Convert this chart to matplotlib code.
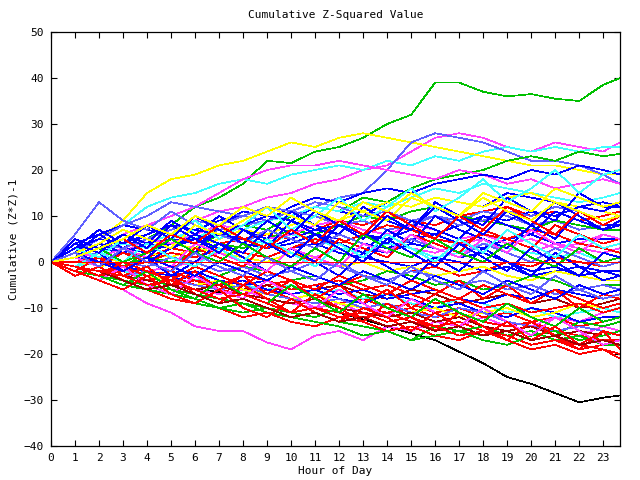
import matplotlib
matplotlib.use("Agg")
import matplotlib.pyplot as plt

# sample times (hour of day)
hours = [0, 1, 2, 3, 4, 5, 6, 7, 8, 9, 10, 11, 12, 13, 14, 15, 16, 17, 18, 19, 20, 21, 22, 23, 23.7]

# colours used by the series (gnuplot-like palette)
RED = '#ff0000'
GREEN = '#00c000'
BLUE = '#0000ff'
MAGENTA = '#ff40ff'
CYAN = '#40ffff'
YELLOW = '#ffff00'
SLATE = '#6060ff'
DKRED = '#a00000'
BLACK = '#000000'

# cumulative (z*z)-1 per channel at each hour
s01 = [0, -1, 1, 3, 5, 8, 12, 14, 17, 22, 21.5, 24, 25, 27, 30, 32, 39, 39, 37, 36, 36.5, 35.5, 35, 38.5, 40]
s02 = [0, -1, -2, -3, -4, -5, -6, -6.5, -7, -8, -9, -10, -11, -12.5, -14, -15.5, -17, -19.5, -22, -25, -26.5, -28.5, -30.5, -29.5, -29]
s03 = [0, -2, -4, -6, -9, -11, -14, -15, -15, -17.5, -19, -16, -15, -17, -14, -15, -13, -14, -12, -14, -13, -15, -16, -14, -15]
s04 = [0, 1, 3, 2, 5, 7, 9, 11, 12, 14, 15, 17, 18, 20, 21, 24, 27, 28, 27, 25, 24, 26, 25, 24, 26]
s05 = [0, 2, 5, 8, 12, 14, 15, 17, 18, 17, 19, 20, 21, 20, 22, 21, 23, 22, 24, 25, 24, 25, 24, 25, 25]
s06 = [0, 2, 5, 9, 15, 18, 19, 21, 22, 24, 26, 25, 27, 28, 27, 26, 25, 24, 23, 22, 21, 21, 20, 19, 19]
s07 = [0, 3, 1, 0, 2, 4, 5, 7, 8, 9, 10, 12, 14, 15, 20, 26, 28, 27, 26, 24, 22, 22, 21, 19, 17]
s08 = [0, 1, 0, -1, 2, 4, 3, 6, 8, 7, 10, 12, 11, 14, 13, 16, 18, 19, 20, 22, 23, 22, 24, 23, 23.5]
s09 = [0, 1, 3, 6, 8, 10, 12, 15, 18, 20, 21, 21, 22, 21, 20, 19, 18, 20, 19, 17, 18, 16, 17, 18, 17]
s10 = [0, 2, 4, 3, 6, 8, 7, 9, 10, 9, 12, 14, 13, 15, 16, 15, 17, 18, 19, 18, 20, 19, 21, 20, 19]
s11 = [0, 4, 6, 8, 7, 6, 9, 8, 11, 10, 9, 12, 11, 10, 13, 12, 14, 13, 12, 15, 14, 13, 12, 13, 12]
s12 = [0, 1, 3, 2, 4, 6, 5, 8, 7, 9, 10, 12, 11, 13, 12, 14, 16, 15, 17, 16, 15, 14, 13, 14, 15]
s13 = [0, -1, 0, 2, 1, 3, 2, 4, 5, 6, 5, 7, 9, 8, 10, 9, 8, 10, 11, 12, 10, 11, 9, 10, 11]
s14 = [0, -1, 1, 0, 2, 4, 3, 5, 7, 6, 8, 10, 9, 11, 13, 12, 14, 13, 12, 14, 15, 13, 12, 11, 10]
s15 = [0, 2, 5, 8, 10, 13, 12, 11, 10, 9, 11, 10, 8, 9, 7, 8, 10, 9, 11, 10, 8, 9, 7, 8, 8]
s16 = [0, -1, -2, -1, 1, 0, 2, 4, 3, 5, 7, 6, 8, 10, 9, 11, 12, 10, 9, 8, 7, 9, 8, 7, 7]
s17 = [0, 1, 0, 2, 4, 3, 5, 6, 4, 3, 5, 7, 6, 4, 3, 5, 6, 4, 3, 5, 6, 4, 5, 5, 5]
s18 = [0, -1, -2, -3, -2, -1, 0, 2, 1, 0, -1, 1, 3, 2, 4, 3, 2, 4, 5, 3, 2, 4, 3, 2, 3]
s19 = [0, 1, 2, 4, 3, 5, 7, 6, 5, 4, 6, 5, 3, 2, 4, 3, 1, 2, 4, 3, 2, 1, 2, 0, 1]
s20 = [0, -1, -2, -3, -4, -5, -4, -6, -7, -5, -4, -6, -5, -3, -4, -2, -1, -3, -2, 0, -1, 1, 0, -1, 0]
s21 = [0, 2, 1, 3, 2, 4, 5, 3, 2, 1, 3, 4, 2, 1, 0, -1, 1, 0, -2, -1, -3, -2, -1, -2, -2]
s22 = [0, 1, -1, 0, 2, 1, 3, 2, 1, 0, 2, 1, -1, 0, -2, -1, -3, -2, -1, -3, -4, -2, -3, -4, -4]
s23 = [0, -1, -2, -1, -3, -2, -4, -3, -1, -2, -4, -3, -5, -4, -2, -3, -5, -4, -6, -5, -3, -4, -6, -5, -5]
s24 = [0, 1, 2, 0, -1, 1, 0, -2, -1, -3, -2, 0, -1, -3, -4, -2, -3, -5, -4, -6, -5, -7, -6, -5, -6]
s25 = [0, -1, -2, -3, -2, -4, -5, -4, -6, -5, -7, -6, -5, -7, -8, -6, -7, -9, -8, -7, -9, -8, -10, -9, -8]
s26 = [0, 1, 3, 2, 4, 5, 4, 6, 5, 3, 4, 6, 5, 3, 2, 4, 3, 1, 2, 0, -2, -1, -3, -2, -3]
s27 = [0, 2, 1, 3, 5, 4, 6, 8, 7, 5, 6, 8, 9, 7, 6, 8, 7, 5, 6, 4, 5, 3, 4, 6, 5]
s28 = [0, -1, -2, -3, -4, -3, -5, -6, -5, -7, -8, -7, -9, -8, -10, -9, -11, -10, -12, -11, -13, -12, -14, -13, -12]
s29 = [0, -1, -2, -2, -3, -4, -5, -6, -7, -8, -9, -10, -11, -12, -11, -13, -14, -13, -15, -16, -15, -17, -18, -19, -20]
s30 = [0, -2, -3, -4, -6, -7, -8, -10, -9, -11, -12, -11, -13, -14, -15, -17, -14, -15, -16, -15, -14, -16, -13, -14, -13]
s31 = [0, -1, -3, -2, -4, -5, -4, -6, -7, -6, -8, -9, -8, -10, -11, -10, -12, -11, -13, -14, -13, -15, -16, -17, -17]
s32 = [0, -1, -2, -4, -5, -4, -6, -7, -6, -8, -9, -10, -9, -11, -12, -11, -13, -12, -11, -13, -14, -12, -13, -11, -10]
s33 = [0, -1, 0, -2, -3, -2, -4, -3, -5, -6, -5, -7, -6, -8, -7, -9, -10, -8, -9, -11, -10, -12, -11, -10, -11]
s34 = [0, -1, -2, -1, -3, -4, -3, -5, -4, -6, -7, -6, -8, -9, -7, -8, -10, -9, -11, -12, -10, -11, -13, -12, -12]
s35 = [0, -1, -3, -4, -5, -6, -7, -8, -9, -10, -11, -12, -10, -11, -13, -12, -14, -15, -14, -16, -15, -17, -16, -18, -18]
s36 = [0, -2, -3, -5, -6, -8, -9, -10, -12, -11, -13, -14, -12, -13, -15, -14, -16, -17, -15, -16, -18, -17, -19, -18, -17]
s37 = [0, -1, -2, -1, -3, -4, -5, -4, -6, -7, -8, -7, -9, -10, -9, -11, -10, -12, -11, -10, -12, -11, -9, -10, -9]
s38 = [0, -1, -2, -3, -2, -4, -5, -6, -5, -7, -8, -9, -8, -10, -9, -11, -12, -10, -11, -13, -14, -15, -14, -15, -16]
s39 = [0, -1, -2, -3, -4, -5, -6, -5, -7, -8, -9, -8, -10, -11, -12, -11, -13, -12, -14, -15, -14, -16, -15, -16, -15]
s40 = [0, 1, 0, -1, -2, -3, -2, -4, -5, -4, -6, -5, -7, -6, -8, -7, -6, -8, -9, -7, -8, -6, -7, -8, -7]
s41 = [0, -1, -2, -1, -3, -2, -4, -5, -3, -4, -6, -5, -4, -6, -5, -7, -9, -8, -10, -9, -11, -10, -9, -11, -10]
s42 = [0, -2, -3, -5, -6, -7, -9, -10, -11, -10, -12, -13, -14, -16, -15, -17, -16, -15, -17, -18, -16, -15, -17, -16, -15]
s43 = [0, 3, 5, 4, 6, 8, 7, 6, 8, 10, 9, 7, 8, 6, 5, 7, 6, 8, 10, 9, 11, 10, 12, 11, 13]
s44 = [0, 2, 4, 3, 5, 7, 9, 8, 10, 12, 11, 13, 12, 10, 11, 9, 10, 8, 9, 11, 10, 12, 11, 9, 10]
s45 = [0, 0, 1, -1, 0, 2, 1, 3, 2, 1, 3, 5, 4, 6, 8, 7, 5, 4, 6, 5, 7, 6, 4, 3, 2]
s46 = [0, 5, 3, 6, 4, 9, 6, 10, 7, 5, 11, 8, 6, 12, 9, 7, 13, 10, 8, 14, 11, 9, 15, 12, 12]
s47 = [0, 2, 6, 3, 1, 5, 2, 8, 5, 3, 9, 6, 4, 2, 7, 4, 10, 7, 5, 3, 8, 5, 11, 8, 8]
s48 = [0, -2, 1, -3, -1, -5, -2, -6, -3, -7, -4, -8, -5, -9, -6, -10, -7, -4, -8, -5, -9, -6, -10, -7, -8]
s49 = [0, -3, -1, -4, -6, -3, -7, -9, -5, -8, -11, -7, -10, -13, -9, -12, -15, -11, -14, -17, -13, -16, -19, -15, -16]
s50 = [0, 1, 4, 2, 0, 3, 6, 4, 2, 7, 5, 3, 8, 6, 4, 9, 7, 5, 10, 8, 6, 11, 9, 7, 8]
s51 = [0, -2, -4, -1, -5, -7, -3, -6, -8, -4, -7, -10, -6, -9, -12, -8, -11, -14, -10, -13, -16, -12, -15, -18, -17]
s52 = [0, 3, 1, 5, 2, 6, 9, 5, 8, 12, 7, 10, 14, 9, 12, 16, 11, 14, 18, 13, 16, 20, 15, 19, 20]
s53 = [0, 6, 13, 9, 7, 11, 8, 6, 4, 7, 5, 3, 6, 4, 2, 5, 3, 1, 4, 2, 0, 3, 1, -1, 0]
s54 = [0, -1, -3, -5, -2, -6, -8, -4, -7, -9, -5, -8, -11, -7, -10, -12, -8, -11, -13, -9, -12, -14, -10, -13, -12]
s55 = [0, 2, 4, 7, 5, 3, 8, 6, 9, 12, 10, 8, 13, 11, 9, 14, 12, 10, 15, 13, 11, 16, 14, 12, 13]
s56 = [0, 1, -1, 2, 0, -2, 3, 1, -1, 4, 2, 0, 5, 3, 1, 6, 4, 2, 7, 5, 3, 8, 6, 4, 5]
s57 = [0, -1, 2, -2, 1, -3, 0, 4, 1, -2, 3, 0, -3, 2, -1, -4, 1, -2, 3, 0, -3, 2, -1, -4, -3]
s58 = [0, -1, -3, 0, -2, -4, -1, -3, -5, -2, -4, -6, -3, -5, -7, -4, -6, -8, -5, -7, -9, -6, -8, -10, -9]
s59 = [0, 3, 7, 4, 8, 5, 10, 7, 4, 9, 6, 11, 8, 5, 10, 7, 12, 9, 6, 11, 8, 13, 10, 7, 9]
s60 = [0, 1, -1, 3, 1, -1, 4, 2, 0, -2, 3, 1, -1, 4, 2, 6, 3, 1, 5, 2, 7, 4, 2, 6, 5]
s61 = [0, -2, -4, -6, -3, -7, -9, -6, -10, -12, -8, -11, -13, -10, -12, -15, -11, -14, -16, -13, -17, -14, -18, -15, -19]
s62 = [0, -1, 2, 0, 4, 1, -1, 3, 0, 5, 2, -1, 4, 1, 6, 3, 0, 5, 2, 7, 4, 1, 6, 3, 4]
s63 = [0, 2, 0, -2, 1, -1, -3, 0, -2, -4, -1, -3, -5, -2, -4, -6, -3, -5, -7, -4, -6, -8, -5, -7, -6]
s64 = [0, 1, 3, 0, 2, 5, 2, 0, 4, 1, -1, 3, 0, 6, 3, 1, 5, 2, 0, 4, 1, -1, 3, 0, 1]
s65 = [0, 1, 3, 5, 2, 6, 4, 8, 5, 3, 7, 4, 9, 6, 11, 8, 5, 10, 7, 12, 9, 6, 11, 8, 10]
s66 = [0, -1, -2, -4, -6, -5, -7, -9, -8, -10, -12, -11, -13, -12, -14, -13, -15, -14, -16, -15, -17, -16, -18, -17, -18]
s67 = [0, 4, 2, 6, 3, 8, 5, 2, 7, 4, 1, 6, 3, 0, 5, 2, -1, 4, 1, -2, 3, 0, -3, 2, 1]
s68 = [0, 2, -1, 3, 0, -2, 2, -1, -3, 1, -2, -4, 0, -3, -5, -1, -4, -6, -2, -5, -7, -3, -6, -8, -7]
s69 = [0, 1, 3, 5, 8, 6, 10, 8, 12, 10, 14, 11, 9, 13, 11, 15, 12, 10, 14, 11, 9, 13, 11, 9, 10]
s70 = [0, -1, -2, -3, -5, -4, -6, -8, -7, -9, -11, -10, -12, -11, -13, -12, -14, -16, -15, -17, -19, -18, -20, -19, -21]

series = [
    (s01, GREEN), (s02, BLACK), (s03, MAGENTA), (s04, MAGENTA), (s05, CYAN),
    (s06, YELLOW), (s07, SLATE), (s08, GREEN), (s09, MAGENTA), (s10, BLUE),
    (s11, BLUE), (s12, CYAN), (s13, RED), (s14, YELLOW), (s15, SLATE),
    (s16, GREEN), (s17, BLUE), (s18, MAGENTA), (s19, CYAN), (s20, RED),
    (s21, BLUE), (s22, YELLOW), (s23, GREEN), (s24, SLATE), (s25, DKRED),
    (s26, BLUE), (s27, MAGENTA), (s28, RED), (s29, RED), (s30, GREEN),
    (s31, RED), (s32, MAGENTA), (s33, CYAN), (s34, BLUE), (s35, GREEN),
    (s36, RED), (s37, YELLOW), (s38, SLATE), (s39, DKRED), (s40, BLUE),
    (s41, RED), (s42, GREEN), (s43, BLUE), (s44, SLATE), (s45, RED),
    (s46, BLUE), (s47, BLUE), (s48, RED), (s49, RED), (s50, BLUE),
    (s51, MAGENTA), (s52, CYAN), (s53, SLATE), (s54, GREEN), (s55, YELLOW),
    (s56, RED), (s57, BLUE), (s58, RED), (s59, BLUE), (s60, MAGENTA),
    (s61, RED), (s62, CYAN), (s63, BLUE), (s64, GREEN), (s65, RED),
    (s66, DKRED), (s67, BLUE), (s68, SLATE), (s69, YELLOW), (s70, RED),
]

plt.rcParams['font.family'] = 'DejaVu Sans Mono'
plt.rcParams['font.size'] = 8

fig = plt.figure(figsize=(6.4, 4.8), dpi=100)
ax = fig.add_axes([51/640, 34/480, 569/640, 414/480])

for vals, col in series:
    ax.plot(hours, vals, color=col, lw=0.5, antialiased=False)

# zero reference line
ax.axhline(0, color=RED, lw=0.5, antialiased=False)

ax.set_xlim(0, 23.7)
ax.set_ylim(-40, 50)
ax.set_xticks(range(24))
ax.set_yticks(range(-40, 51, 10))
ax.tick_params(direction='in', top=True, right=True, length=4, width=0.8, pad=5)
for sp in ax.spines.values():
    sp.set_linewidth(0.9)

ax.set_title('Cumulative Z-Squared Value', fontsize=8, pad=10)
ax.set_xlabel('Hour of Day', labelpad=2)
ax.set_ylabel('Cumulative (Z*Z)-1', labelpad=4)

fig.savefig('out.png', dpi=100)
